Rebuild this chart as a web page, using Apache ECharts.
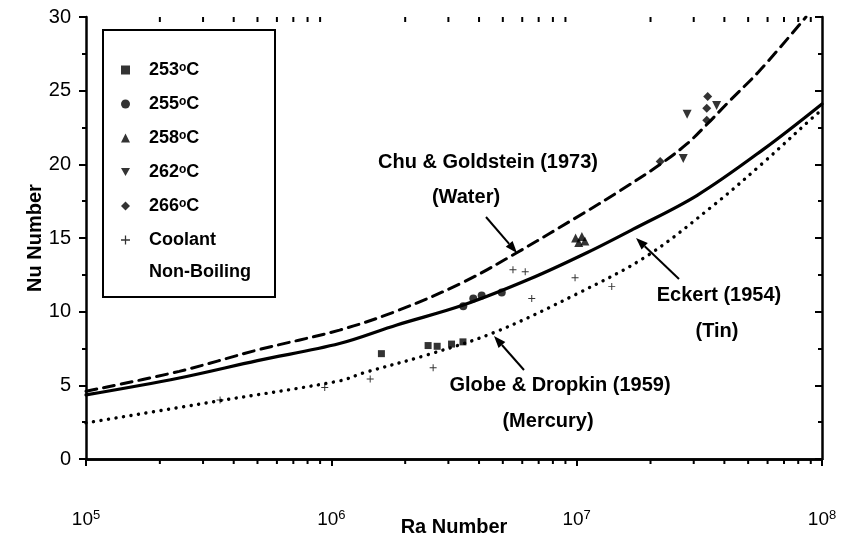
<!DOCTYPE html>
<html>
<head>
<meta charset="utf-8">
<script src="https://cdn.jsdelivr.net/npm/echarts@6/dist/echarts.min.js"></script>
<style>
html, body { margin: 0; padding: 0; background: #fff; }
#chart { width: 841px; height: 547px; }
</style>
</head>
<body>
<div id="chart"></div>
<script>
// points: [Ra, Nu]
const s253 = [[1.60e6, 7.15], [2.48e6, 7.7], [2.70e6, 7.65], [3.09e6, 7.8], [3.44e6, 7.95]]
const s255 = [[3.45e6, 10.36], [3.79e6, 10.9], [4.10e6, 11.1], [4.95e6, 11.3]]
const s258 = [[9.9e6, 15.0], [1.02e7, 14.7], [1.05e7, 15.1], [1.08e7, 14.8]]
const s262 = [[2.72e7, 20.4], [2.82e7, 23.4], [3.72e7, 24.0]]
const s266 = [[2.19e7, 20.2], [3.39e7, 23.0], [3.39e7, 23.8], [3.42e7, 24.6]]
const coolant = [[3.52e5, 4.0], [9.4e5, 4.86], [1.44e6, 5.43], [2.6e6, 6.2], [5.5e6, 12.84],
    [6.17e6, 12.71], [6.56e6, 10.9], [9.85e6, 12.3], [1.39e7, 11.7]]

// correlation curves
const chuGoldstein = [[1e5, 4.6], [2.4e5, 5.95], [5e5, 7.4], [1.08e6, 8.75], [1.85e6, 10.05],
    [3.45e6, 12.0], [5.7e6, 14.0], [1.07e7, 16.7], [1.5e7, 18.2], [2.19e7, 20.0],
    [2.82e7, 21.4], [3.39e7, 22.7], [4.2e7, 24.3], [5.6e7, 26.4], [8.6e7, 30]]
const eckert = [[1e5, 4.35], [2.4e5, 5.5], [5e5, 6.68], [1.08e6, 7.84], [1.85e6, 9.1],
    [3.45e6, 10.45], [6.5e6, 12.25], [1.1e7, 14.0], [1.7e7, 15.6], [3.1e7, 17.9],
    [5.75e7, 21.0], [1e8, 24.1]]
const globeDropkin = [[1e5, 2.45], [3.5e5, 3.95], [1.08e6, 5.3], [1.35e6, 5.84], [2.5e6, 7.1],
    [4.6e6, 8.58], [1.0e7, 11.2], [1.93e7, 13.77], [3.6e7, 17.2], [5.75e7, 20.1],
    [9.2e7, 23.2], [1e8, 23.7]]

const tempNames = ['253', '255', '258', '262', '266']
const decades = [1e5, 1e6, 1e7]
const minorSteps = [2, 3, 4, 5, 6, 7, 8, 9]

const font = 'Liberation Sans, Arial, sans-serif'
const crossPath = 'path://M4.3,0 H5.7 V4.3 H10 V5.7 H5.7 V10 H4.3 V5.7 H0 V4.3 H4.3 Z'
const triDown = 'path://M0,0 L10,0 L5,9 Z'

const scatter = (name, data, symbol, size) => ({
    name, type: 'scatter', data, symbol, symbolSize: size,
    itemStyle: { color: '#000' }, z: 4
})
const curve = (name, data, type, width) => ({
    name, type: 'line', data, smooth: 0.35, showSymbol: false, silent: true,
    lineStyle: { color: '#000', width, type, cap: 'round' }, z: 3
})

const option = {
    animation: false,
    backgroundColor: '#fff',
    grid: { left: 86, right: 19, top: 17, bottom: 88, containLabel: false, outerBoundsMode: 'none' },
    legend: {
        orient: 'vertical', left: 116, top: 56, itemGap: 16,
        itemWidth: 9, itemHeight: 9,
        data: tempNames.map(t => t + 'oC').concat(['Coolant']),
        textStyle: {
            fontFamily: font, fontSize: 18, fontWeight: 'bold', color: '#000',
            rich: {
                g: { width: 14 },
                n: { fontFamily: font, fontSize: 18, fontWeight: 'bold', color: '#000', lineHeight: 20 },
                o: { fontFamily: font, fontSize: 12, fontWeight: 'bold', color: '#000', padding: [0, 0, 4, 0] }
            }
        },
        formatter: name => name.endsWith('oC') ? `{g|}{n|${name.slice(0, 3)}}{o|o}{n|C}` : `{g|}{n|${name}}`
    },
    xAxis: [{
        type: 'log', logBase: 10, min: 1e5, max: 1e8, position: 'bottom',
        axisLine: { lineStyle: { color: '#000', width: 2.5 } },
        axisTick: { length: 7, lineStyle: { color: '#000', width: 2 } },
        splitLine: { show: false },
        axisLabel: {
            margin: 50, color: '#000',
            formatter: v => `{b|10}{s|${Math.round(Math.log10(v))}}`,
            rich: {
                b: { fontFamily: font, fontSize: 19, color: '#000' },
                s: { fontFamily: font, fontSize: 13, color: '#000', padding: [0, 0, 9, 0] }
            }
        },
        name: 'Ra Number', nameLocation: 'middle', nameGap: 58, nameMoveOverlap: false,
        nameTextStyle: { fontFamily: font, fontSize: 20, fontWeight: 'bold', color: '#000' }
    }, {
        type: 'log', logBase: 10, min: 1e5, max: 1e8, position: 'top',
        axisLine: { lineStyle: { color: '#000', width: 2.5 } },
        axisTick: { inside: true, length: 7, lineStyle: { color: '#000', width: 2 } },
        axisLabel: { show: false }, splitLine: { show: false }
    }],
    yAxis: [{
        type: 'value', min: 0, max: 30, interval: 5,
        axisLine: { show: true, lineStyle: { color: '#000', width: 2.5 } },
        axisTick: { show: true, length: 7, lineStyle: { color: '#000', width: 2 } },
        minorTick: { show: true, splitNumber: 2, length: 4, lineStyle: { color: '#000', width: 2 } },
        splitLine: { show: false },
        axisLabel: { margin: 15, fontFamily: font, fontSize: 20, color: '#000' },
        name: 'Nu Number', nameLocation: 'middle', nameGap: 41, nameRotate: 90, nameMoveOverlap: false,
        nameTextStyle: { fontFamily: font, fontSize: 20, fontWeight: 'bold', color: '#000' }
    }, {
        type: 'value', min: 0, max: 30, interval: 5, position: 'right',
        axisLine: { show: true, lineStyle: { color: '#000', width: 2.5 } },
        axisTick: { show: true, inside: true, length: 7, lineStyle: { color: '#000', width: 2 } },
        minorTick: { show: true, splitNumber: 2, length: 4, lineStyle: { color: '#000', width: 2 } },
        splitLine: { show: false }, axisLabel: { show: false }
    }],
    series: [
        curve('Chu & Goldstein (1973)', chuGoldstein, [11, 7], 3),
        curve('Eckert (1954)', eckert, 'solid', 3.2),
        curve('Globe & Dropkin (1959)', globeDropkin, [0.1, 7.5], 3.4),
        scatter('253oC', s253, 'rect', 7),
        scatter('255oC', s255, 'circle', 8),
        scatter('258oC', s258, 'triangle', 9),
        scatter('262oC', s262, triDown, 9),
        scatter('266oC', s266, 'diamond', 9),
        scatter('Coolant', coolant, crossPath, 7)
    ]
}

const chart = echarts.init(document.getElementById('chart'))
chart.setOption(option)

// log minor ticks and annotations
const yBottom = chart.convertToPixel({ yAxisIndex: 0 }, 0)
const yTop = chart.convertToPixel({ yAxisIndex: 0 }, 30)
const tickStyle = { stroke: '#000', lineWidth: 2 }
const graphics = []
decades.forEach(d => minorSteps.forEach(m => {
    const x = chart.convertToPixel({ xAxisIndex: 0 }, m * d)
    graphics.push({ type: 'line', shape: { x1: x, y1: yBottom, x2: x, y2: yBottom + 5 }, style: tickStyle })
    graphics.push({ type: 'line', shape: { x1: x, y1: yTop, x2: x, y2: yTop + 5 }, style: tickStyle })
}))

const label = (text, x, y) => ({
    type: 'text', x, y, z: 10,
    style: { text, fill: '#000', font: `bold 20px ${font}`, textAlign: 'center', textVerticalAlign: 'middle' }
})
const arrow = (x1, y1, x2, y2) => {
    const a = Math.atan2(y2 - y1, x2 - x1)
    const len = 12, w = 4.5
    const bx = x2 - len * Math.cos(a), by = y2 - len * Math.sin(a)
    return [{
        type: 'line', z: 10, shape: { x1, y1, x2: bx, y2: by }, style: { stroke: '#000', lineWidth: 2 }
    }, {
        type: 'polygon', z: 10,
        shape: { points: [[x2, y2], [bx + w * Math.sin(a), by - w * Math.cos(a)], [bx - w * Math.sin(a), by + w * Math.cos(a)]] },
        style: { fill: '#000' }
    }]
}

graphics.push(
    { type: 'rect', z: 5, shape: { x: 103, y: 30, width: 172, height: 267 }, style: { fill: 'none', stroke: '#000', lineWidth: 2 } },
    { type: 'text', z: 10, x: 149, y: 272, style: { text: 'Non-Boiling', fill: '#000', font: `bold 18px ${font}`, textVerticalAlign: 'middle' } },
    label('Chu & Goldstein (1973)', 488, 162),
    label('(Water)', 466, 197),
    label('Eckert (1954)', 719, 295),
    label('(Tin)', 717, 331),
    label('Globe & Dropkin (1959)', 560, 385),
    label('(Mercury)', 548, 421),
    ...arrow(486, 217, 517, 253),
    ...arrow(679, 279, 636, 238),
    ...arrow(524, 370, 494, 336)
)
chart.setOption({ graphic: graphics })
</script>
</body>
</html>
